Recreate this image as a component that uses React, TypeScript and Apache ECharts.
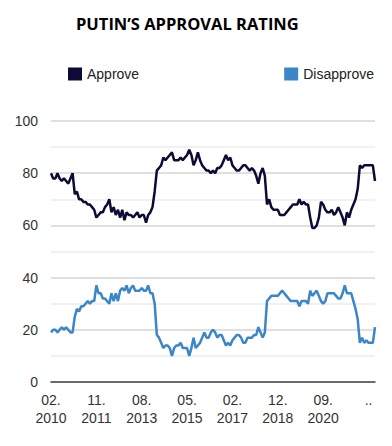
import React, { useEffect, useRef } from "react";
import * as echarts from "echarts";

// Monthly survey categories, 02.2010 - 09.2022 (one month, 01.2018, missing)
const categories: string[] = [];
{
  let y = 2010;
  let m = 2;
  while (categories.length < 151) {
    if (!(y === 2018 && m === 1)) categories.push(`${m < 10 ? "0" + m : m}.${y}`);
    m++;
    if (m > 12) { m = 1; y++; }
  }
}

const approve: number[] = [
  80, 78, 78, 80, 78, 77, 78, 77, 76, 78, 80,
  72, 73, 70, 70, 69, 69, 68, 68, 67, 66, 63,
  64, 65, 65, 67, 68, 70, 65, 67, 64, 66, 63, 66, 62, 65, 64, 64, 63,
  64, 65, 63, 64, 64, 61, 64, 65, 67, 73,
  81, 82, 83, 86, 85, 86, 87, 88, 85, 85, 85, 86, 85, 86, 87, 89, 87, 83, 85, 88, 85, 83, 82, 81, 81, 80, 81, 80,
  82, 82, 83, 85, 87, 85, 86, 83, 82, 81, 81, 82, 83, 83, 82, 81, 82, 81, 79, 76, 80, 82, 79, 68, 70, 67, 66, 66, 66, 64, 64, 64, 65, 66, 67, 68, 68,
  68, 70, 68, 69, 68, 68, 63, 59, 59, 60, 63, 69, 68, 66, 65, 65, 66, 64, 65, 67, 65, 63, 60, 65, 63, 66, 68, 70, 74, 83, 82, 83, 83, 83, 83, 83, 77,
];

const disapprove: number[] = [
  19, 20, 20, 19, 20, 21, 20, 21, 20, 19, 19,
  25, 28, 27, 29, 29, 30, 31, 30, 31, 31, 37,
  34, 34, 32, 32, 31, 30, 34, 31, 34, 31, 35, 36, 35, 37, 34, 36, 37, 35, 35, 35, 36, 35, 35, 37, 34, 34, 30,
  18, 17, 15, 13, 14, 14, 13, 10, 13, 14, 14, 15, 13, 13, 13, 10, 13, 17, 13, 14, 15, 17, 19, 17, 17, 19, 20,
  19, 17, 18, 18, 16, 14, 15, 14, 16, 17,
  18, 18, 17, 15, 15, 17, 17, 17, 18, 18,
  21, 19, 17, 19, 31, 32, 33, 33, 33, 33,
  34, 35, 34, 33, 32, 31, 31, 31, 31, 29,
  31, 31, 31, 30, 35, 33, 34, 35, 33, 31,
  30, 31, 34, 34, 34, 34, 33, 32, 32, 34,
  37, 34, 34, 34, 31, 28,
  24, 15, 17, 15, 16, 15, 15, 15, 21,
];

const seriesNames = ["Approve", "Disapprove"];
const colors = ["#0b0b36", "#3a86c8"];
const titleText = "PUTIN\u2019S APPROVAL RATING";
const truncatedTickIndex = 147;

export default function App() {
  const ref = useRef<HTMLDivElement>(null);
  useEffect(() => {
    if (!ref.current) return;
    const chart = echarts.init(ref.current, null, { renderer: "svg" });
    const legendText = { fontFamily: "Liberation Sans, Arial", fontSize: 14, color: "#222" };
    chart.setOption({
      animation: false,
      title: {
        text: titleText,
        left: 76,
        top: 15,
        padding: 0,
        textStyle: {
          fontFamily: "Open Sans",
          fontWeight: "bold",
          fontSize: 16.5,
          color: "#000",
        },
      },
      legend: [
        {
          data: [seriesNames[0]],
          left: 68,
          top: 67,
          padding: 0,
          icon: "rect",
          itemWidth: 14,
          itemHeight: 13,
          textStyle: legendText,
        },
        {
          data: [seriesNames[1]],
          right: 18,
          top: 67,
          padding: 0,
          icon: "rect",
          itemWidth: 14,
          itemHeight: 13,
          textStyle: legendText,
        },
      ],
      grid: { left: 51, right: 17, top: 121, bottom: 64, containLabel: false },
      xAxis: {
        type: "category",
        data: categories,
        boundaryGap: false,
        axisLine: { show: true, lineStyle: { color: "#444", width: 1.5 } },
        axisTick: { show: false },
        axisLabel: {
          interval: 20,
          margin: 9,
          fontFamily: "Liberation Sans, Arial",
          fontSize: 14,
          color: "#333",
          lineHeight: 18,
          formatter: (v: string, i: number) => (i === truncatedTickIndex ? ".." : v.replace(".", ".\n")),
        },
        splitLine: { show: false },
      },
      yAxis: {
        type: "value",
        min: 0,
        max: 100,
        interval: 10,
        axisLine: { show: false },
        axisTick: { show: false },
        axisLabel: {
          margin: 13,
          fontFamily: "Liberation Sans, Arial",
          fontSize: 14,
          color: "#333",
          formatter: (v: number) => (v % 20 === 0 ? String(v) : ""),
        },
        splitLine: { show: true, lineStyle: { color: ["#d6d6d6", "#ececec"], width: 1.5 } },
      },
      series: [
        {
          name: seriesNames[0],
          type: "line",
          data: approve,
          showSymbol: false,
          color: colors[0],
          lineStyle: { width: 2.5, color: colors[0] },
        },
        {
          name: seriesNames[1],
          type: "line",
          data: disapprove,
          showSymbol: false,
          color: colors[1],
          lineStyle: { width: 2.5, color: colors[1] },
        },
      ],
    });
    return () => chart.dispose();
  }, []);
  return (
    <div
      ref={ref}
      style={{ position: "fixed", left: 0, top: 0, width: 392, height: 446, background: "#fff" }}
    />
  );
}
